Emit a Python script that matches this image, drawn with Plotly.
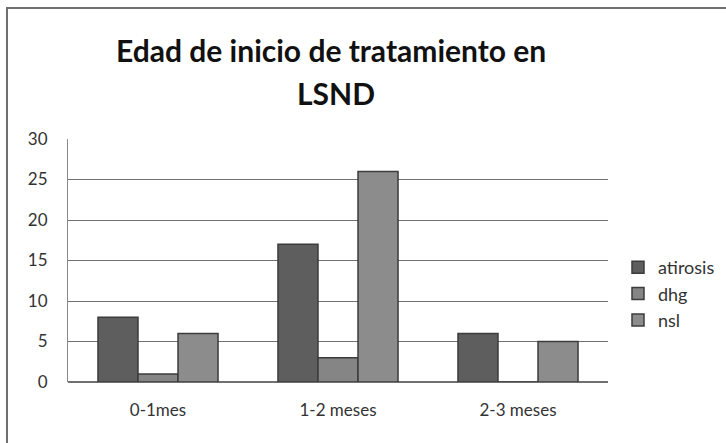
import plotly.graph_objects as go

categories = ["0-1mes", "1-2 meses", "2-3 meses"]
atirosis = [8, 17, 6]
dhg = [1, 3, 0]
nsl = [6, 26, 5]
y_ticks = [0, 5, 10, 15, 20, 25, 30]

title_line1 = "Edad de inicio de tratamiento en"
title_line2 = "LSND"

W, H = 726, 443
L, R, T, B = 68, 118, 139, 61
pw, ph = W - L - R, H - T - B

def px_to_paper_x(x):
    return (x - L) / pw

def px_to_paper_y(y):
    return (H - B - y) / ph

font_family = "Lato, 'Open Sans', sans-serif"

fig = go.Figure()
series = [("atirosis", atirosis, "#5e5e5e"), ("dhg", dhg, "#858585"), ("nsl", nsl, "#8c8c8c")]
for name, vals, col in series:
    fig.add_trace(go.Bar(
        name=name, x=categories, y=vals,
        marker=dict(color=col, line=dict(color="#3c3c3c", width=1.5)),
    ))

fig.update_layout(
    width=W, height=H,
    margin=dict(l=L, r=R, t=T, b=B, autoexpand=False),
    paper_bgcolor="white", plot_bgcolor="white",
    barmode="group", bargap=0.333, bargroupgap=0,
    font=dict(family=font_family, color="#333333", size=17),
    showlegend=True,
    legend=dict(x=px_to_paper_x(618), y=px_to_paper_y(294), xanchor="left", yanchor="middle",
                font=dict(size=18, color="#333333"), itemwidth=30, tracegroupgap=4,
                bgcolor="rgba(0,0,0,0)"),
    xaxis=dict(showgrid=False, showline=False, ticks="", tickfont=dict(size=17, color="#333333"),
               ticklabelstandoff=16),
    yaxis=dict(range=[0, 30], tickvals=y_ticks, showgrid=True, gridcolor="#707070", gridwidth=1,
               showline=True, linecolor="#8a8a8a", linewidth=1, ticks="",
               tickfont=dict(size=17, color="#333333"), ticklabelstandoff=16,
               zeroline=True, zerolinecolor="#707070", zerolinewidth=1.5),
    annotations=[
        dict(text="<b>" + title_line1 + "</b>", x=px_to_paper_x(331), y=px_to_paper_y(50),
             xref="paper", yref="paper", showarrow=False, xanchor="center", yanchor="middle",
             font=dict(size=30, color="#111111", family=font_family)),
        dict(text="<b>" + title_line2 + "</b>", x=px_to_paper_x(336), y=px_to_paper_y(93),
             xref="paper", yref="paper", showarrow=False, xanchor="center", yanchor="middle",
             font=dict(size=30, color="#111111", family=font_family)),
    ],
    shapes=[
        dict(type="rect", xref="paper", yref="paper",
             x0=px_to_paper_x(7), x1=px_to_paper_x(732), y0=px_to_paper_y(449), y1=px_to_paper_y(8),
             line=dict(color="#707070", width=2), fillcolor="rgba(0,0,0,0)", layer="below"),
    ],
)

fig.write_html("out.html", config={"displayModeBar": False},
               post_script="document.body.style.margin='0';")
